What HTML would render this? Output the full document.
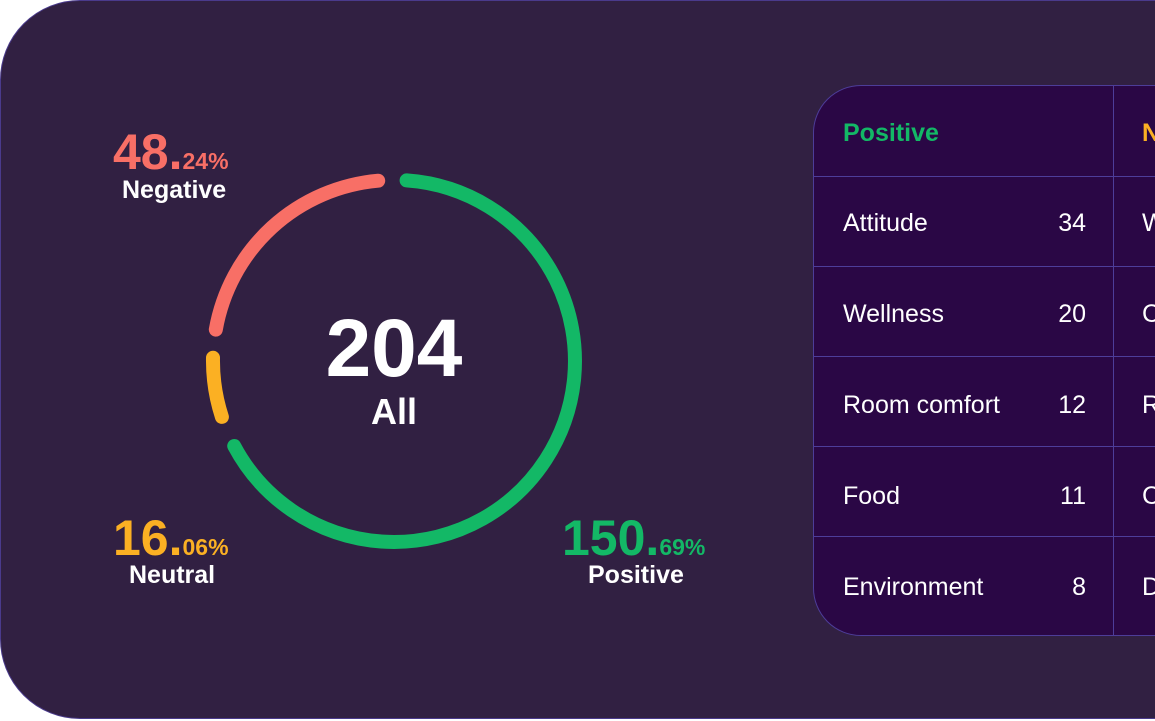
<!DOCTYPE html>
<html><head><style>
html,body{margin:0;padding:0;background:#fff;width:1155px;height:721px;overflow:hidden;font-family:"Liberation Sans",sans-serif}
.card{position:absolute;left:0;top:0;width:1240px;height:719px;background:#312042;border:1px solid #4a3a8c;border-radius:80px;box-sizing:border-box}
.t{position:absolute;color:#fff}
.tbl{position:absolute;left:813px;top:85px;width:500px;height:551px;background:#2a0745;border:1px solid #4d3d99;border-radius:48px;box-sizing:border-box;overflow:hidden}
.row{position:absolute;left:0;width:500px;border-top:1px solid #4d3d99}
.vl{position:absolute;left:299px;top:0;width:1px;height:551px;background:#4d3d99}
.c{position:absolute;font-size:25px;color:#fff}
.n{position:absolute;font-size:25px;color:#fff;right:226px;text-align:right}
</style></head><body>
<div class="card"></div>
<svg width="1155" height="721" style="position:absolute;left:0;top:0">
<g fill="none" stroke-width="14" stroke-linecap="round">
<path d="M406.6 180.4 A181 181 0 1 1 234.2 446" stroke="#13b866"/>
<path d="M221.9 416.9 A181 181 0 0 1 213 357.8" stroke="#fbb023"/>
<path d="M215.8 329.6 A181 181 0 0 1 378.2 180.7" stroke="#f86f66"/>
</g>
</svg>
<div class="t" style="left:294px;top:304px;width:200px;text-align:center;font-size:82px;font-weight:bold;line-height:90px">204</div>
<div class="t" style="left:294px;top:392px;width:200px;text-align:center;font-size:36px;font-weight:bold;line-height:40px">All</div>
<div class="t" style="left:113px;top:124px;color:#f86f66;font-weight:bold;font-size:50px;line-height:56px">48.<span style="font-size:23px">24%</span></div>
<div class="t" style="left:122px;top:176px;font-weight:bold;font-size:25px">Negative</div>
<div class="t" style="left:113px;top:510px;color:#fbb023;font-weight:bold;font-size:50px;line-height:56px">16.<span style="font-size:23px">06%</span></div>
<div class="t" style="left:129px;top:561px;font-weight:bold;font-size:25px">Neutral</div>
<div class="t" style="left:562px;top:510px;color:#13b866;font-weight:bold;font-size:50px;line-height:56px">150.<span style="font-size:23px">69%</span></div>
<div class="t" style="left:588px;top:561px;font-weight:bold;font-size:25px">Positive</div>
<div class="tbl">
<div class="vl"></div>
<div class="row" style="top:90px"></div><div class="row" style="top:180px"></div><div class="row" style="top:270px"></div><div class="row" style="top:360px"></div><div class="row" style="top:450px"></div>
<div class="c" style="left:29px;top:33px;color:#13b866;font-weight:bold">Positive</div>
<div class="c" style="left:328px;top:33px;color:#fbb023;font-weight:bold">N</div>
<div class="c" style="left:29px;top:123px">Attitude</div><div class="n" style="top:123px">34</div><div class="c" style="left:328px;top:123px">W</div>
<div class="c" style="left:29px;top:214px">Wellness</div><div class="n" style="top:214px">20</div><div class="c" style="left:328px;top:214px">C</div>
<div class="c" style="left:29px;top:305px">Room comfort</div><div class="n" style="top:305px">12</div><div class="c" style="left:328px;top:305px">R</div>
<div class="c" style="left:29px;top:396px">Food</div><div class="n" style="top:396px">11</div><div class="c" style="left:328px;top:396px">C</div>
<div class="c" style="left:29px;top:487px">Environment</div><div class="n" style="top:487px">8</div><div class="c" style="left:328px;top:487px">D</div>
</div>
</body></html>
